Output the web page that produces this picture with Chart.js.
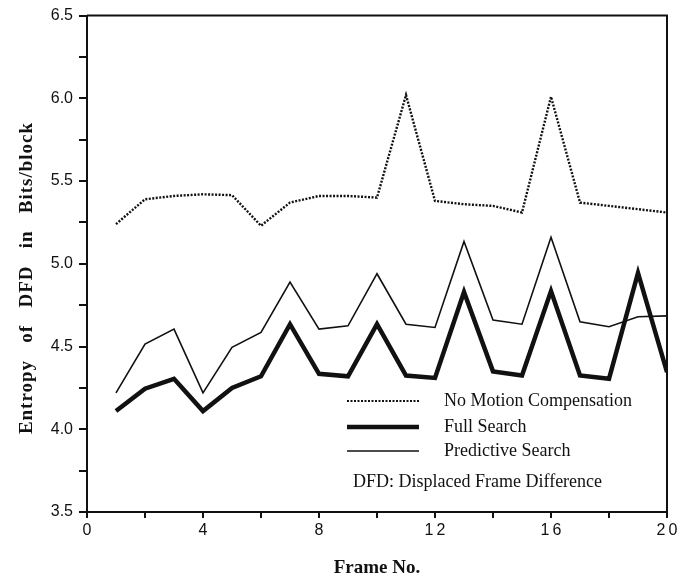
<!DOCTYPE html>
<html><head><meta charset="utf-8">
<script src="https://cdn.jsdelivr.net/npm/chart.js@4.4.1/dist/chart.umd.min.js"></script>
<style>html,body{margin:0;padding:0;background:#fff;}#wrap{width:686px;height:580px;}</style>
</head><body><div id="wrap"><canvas id="c" width="686" height="580"></canvas></div>
<script>
const frames = [1,2,3,4,5,6,7,8,9,10,11,12,13,14,15,16,17,18,19,20];
const noMotion   = [5.24,5.39,5.41,5.42,5.415,5.23,5.37,5.41,5.41,5.40,6.02,5.38,5.36,5.35,5.31,6.01,5.37,5.35,5.33,5.31];
const fullSearch = [4.11,4.245,4.305,4.11,4.25,4.32,4.635,4.335,4.32,4.635,4.325,4.31,4.83,4.35,4.325,4.835,4.325,4.305,4.945,4.345];
const predictive = [4.22,4.515,4.605,4.22,4.495,4.585,4.89,4.605,4.625,4.94,4.635,4.615,5.135,4.66,4.635,5.16,4.65,4.62,4.68,4.685];
const seriesNames = ['No Motion Compensation','Full Search','Predictive Search'];
const noteText = 'DFD: Displaced Frame Difference';
const xTickLabels = ['0','4','8','12','16','20'];
const yTickLabels = ['3.5','4.0','4.5','5.0','5.5','6.0','6.5'];
const xTitle = 'Frame No.';
const yTitle = 'Entropy   of   DFD   in   Bits/block';

const INK = '#111';
const toXY = arr => frames.map((f,i)=>({x:f,y:arr[i]}));

const framePlugin = {
  id:'frame',
  afterDraw(chart){
    const {ctx, chartArea:a} = chart;
    ctx.save();
    ctx.strokeStyle = INK; ctx.lineWidth = 2;
    ctx.beginPath();
    ctx.moveTo(a.left, a.top); ctx.lineTo(a.right, a.top); ctx.lineTo(a.right, a.bottom);
    ctx.stroke();
    // y axis title
    ctx.save();
    ctx.translate(27, 278);
    ctx.rotate(-Math.PI/2);
    ctx.font = 'bold 19px "Liberation Serif", "Times New Roman", serif';
    ctx.letterSpacing = '1px';
    ctx.fillStyle = INK; ctx.textAlign = 'center'; ctx.textBaseline = 'middle';
    ctx.fillText(yTitle, 0, 0);
    ctx.restore();
    // legend
    const sx0 = 347, sx1 = 419, tx = 444;
    const rows = [
      {y:401, w:2, dash:[2,1.5]},
      {y:427, w:4.5, dash:[]},
      {y:451, w:1.6, dash:[]}
    ];
    ctx.font = '18px "Liberation Serif", "Times New Roman", serif';
    ctx.fillStyle = INK; ctx.textBaseline = 'middle'; ctx.textAlign = 'left';
    rows.forEach((r,i)=>{
      ctx.beginPath(); ctx.setLineDash(r.dash); ctx.lineWidth = r.w;
      ctx.moveTo(sx0, r.y); ctx.lineTo(sx1, r.y); ctx.stroke();
      ctx.setLineDash([]);
      ctx.fillText(seriesNames[i], tx, r.y);
    });
    ctx.fillText(noteText, 353, 482);
    ctx.restore();
  }
};

new Chart(document.getElementById('c'), {
  type:'line',
  data:{
    datasets:[
      {label:seriesNames[0], data:toXY(noMotion), borderColor:INK, borderWidth:2.4, borderDash:[2,1.5], pointRadius:0, tension:0, fill:false},
      {label:seriesNames[1], data:toXY(fullSearch), borderColor:INK, borderWidth:4.5, pointRadius:0, tension:0, fill:false, borderJoinStyle:'miter'},
      {label:seriesNames[2], data:toXY(predictive), borderColor:INK, borderWidth:1.6, pointRadius:0, tension:0, fill:false}
    ]
  },
  options:{
    responsive:false, animation:false, devicePixelRatio:1,
    layout:{padding:{top:13,right:19,bottom:0,left:0}},
    plugins:{legend:{display:false}, tooltip:{enabled:false}},
    scales:{
      x:{
        type:'linear', min:0, max:20,
        afterFit(s){ s.height = 68; },
        ticks:{stepSize:2, autoSkip:false, maxRotation:0, padding:3, color:INK,
          font:{family:'"Liberation Sans", Arial, sans-serif', size:16},
          callback(v){ if (v%4!==0) return ''; return xTickLabels[v/4].split('').join('\u2009'); }},
        grid:{drawOnChartArea:false, drawTicks:true, tickLength:6, color:INK, lineWidth:2},
        border:{display:true, color:INK, width:2},
        title:{display:true, text:xTitle, color:INK, padding:{top:0,bottom:1},
          font:{family:'"Liberation Serif", "Times New Roman", serif', size:19, weight:'bold'}}
      },
      y:{
        min:3.5, max:6.5,
        afterFit(s){ s.width = 87; },
        ticks:{stepSize:0.25, autoSkip:false, padding:6, color:INK,
          font:{family:'"Liberation Sans", Arial, sans-serif', size:16},
          callback(v){ const i = Math.round((v-3.5)/0.5); return Math.abs(v-(3.5+0.5*i))<1e-6 ? yTickLabels[i] : ''; }},
        grid:{drawOnChartArea:false, drawTicks:true, tickLength:8, color:INK, lineWidth:2},
        border:{display:true, color:INK, width:2},
        title:{display:false, text:yTitle}
      }
    }
  },
  plugins:[framePlugin]
});
</script>
</body></html>
